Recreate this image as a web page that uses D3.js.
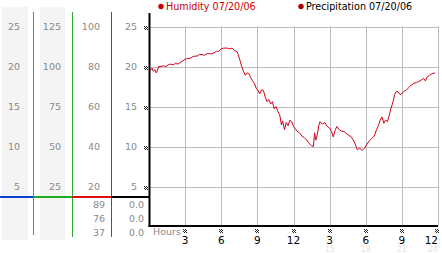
<!DOCTYPE html>
<html lang="en">
<head>
  <meta charset="UTF-8" />
  <title>Humidity 07/20/06</title>
  <script src="https://d3js.org/d3.v7.min.js"></script>
  <style>
    body {
      margin: 0;
      background: #fff;
      overflow: hidden;
    }

    svg {
      display: block;
      font-family: "DejaVu Sans", sans-serif;
    }

    .lbl {
      font-size: 9.5px;
      fill: #8a8a8a;
    }

    .grid line {
      stroke: #bdbdbd;
      stroke-width: 1px;
    }
  </style>
</head>
<body>
  <svg width="442" height="253"></svg>
  <script>
    // humidity trace, [hour, value]
    const humidity = [
      [0.0, 19.3], [0.1, 19.5], [0.25, 19.8], [0.35, 19.4], [0.5, 19.6], [0.6, 19.2], [0.7, 19.5],
      [0.8, 20.0], [1.0, 20.0], [1.2, 20.1], [1.4, 20.0], [1.6, 20.2], [1.8, 20.3], [2.0, 20.2],
      [2.2, 20.4], [2.4, 20.3], [2.6, 20.5], [2.8, 20.7], [3.0, 20.9], [3.2, 21.0], [3.4, 21.0],
      [3.6, 21.2], [3.8, 21.3], [4.0, 21.3], [4.2, 21.5], [4.4, 21.5], [4.6, 21.4], [4.8, 21.6],
      [5.0, 21.6], [5.2, 21.6], [5.4, 21.7], [5.6, 21.9], [5.8, 21.9], [6.0, 22.2], [6.2, 22.3],
      [6.5, 22.3], [6.7, 22.2], [6.9, 22.3], [7.1, 22.0], [7.3, 21.9], [7.4, 21.5], [7.55, 20.8],
      [7.7, 20.0], [7.85, 19.4], [8.0, 18.9], [8.15, 19.2], [8.3, 19.1], [8.45, 18.6], [8.6, 18.2],
      [8.75, 17.9], [8.9, 17.3], [9.05, 17.0], [9.2, 16.6], [9.35, 17.1], [9.5, 17.0], [9.65, 16.2],
      [9.8, 15.6], [9.95, 15.9], [10.1, 15.3], [10.25, 15.6], [10.4, 14.7], [10.55, 15.0],
      [10.7, 14.4], [10.85, 14.0], [11.0, 12.7], [11.1, 13.2], [11.25, 12.1], [11.4, 13.0],
      [11.55, 12.6], [11.7, 13.3], [11.85, 13.1], [12.0, 12.5], [12.15, 12.2], [12.3, 11.9],
      [12.5, 11.7], [12.7, 11.3], [12.9, 11.1], [13.1, 10.8], [13.3, 10.4], [13.5, 10.1],
      [13.65, 10.0], [13.75, 11.7], [13.85, 10.8], [13.95, 11.3], [14.1, 12.6], [14.2, 13.1],
      [14.4, 12.8], [14.6, 13.0], [14.8, 12.5], [15.0, 12.3], [15.15, 11.9], [15.3, 11.2],
      [15.45, 12.0], [15.6, 12.5], [15.8, 12.1], [16.0, 11.9], [16.2, 11.9], [16.4, 11.6],
      [16.6, 11.4], [16.8, 11.2], [17.0, 10.7], [17.15, 10.2], [17.3, 9.6], [17.5, 9.8],
      [17.7, 9.5], [17.9, 9.8], [18.1, 10.3], [18.3, 10.7], [18.5, 11.0], [18.7, 11.3],
      [18.9, 12.1], [19.05, 12.6], [19.2, 13.3], [19.35, 13.7], [19.5, 12.9], [19.65, 13.3],
      [19.8, 13.1], [19.95, 13.9], [20.1, 14.8], [20.25, 15.5], [20.4, 16.5], [20.55, 16.9],
      [20.7, 16.8], [20.85, 16.5], [21.0, 16.6], [21.2, 16.9], [21.4, 17.1], [21.6, 17.4],
      [21.8, 17.7], [22.0, 17.9], [22.2, 18.0], [22.4, 18.1], [22.6, 18.3], [22.8, 18.5],
      [22.95, 18.2], [23.1, 18.7], [23.3, 18.9], [23.5, 19.1], [23.75, 19.2]
    ];

    const plotTicks = [25, 20, 15, 10, 5];
    const leftCols = [
      [25, 20, 15, 10, 5],
      [125, 100, 75, 50, 25],
      [100, 80, 60, 40, 20],
      [25, 20, 15, 10, 5]
    ];
    const currentVals = [["89", "76", "37"], ["0.0", "0.0", "0.0"]];
    const hourTicks = [3, 6, 9, 12, 15, 18, 21, 24];
    const hourLabels = ["3", "6", "9", "12", "3", "6", "9", "12"];
    const hourLabels24 = ["", "", "", "", "15", "18", "21", "24"];
    const legend = [
      { name: "Humidity 07/20/06", text: "#cc0000", dot: "#cc0000" },
      { name: "Precipitation 07/20/06", text: "#000", dot: "#aa0000" }
    ];

    const svg = d3.select("svg");
    const x = d3.scaleLinear().domain([0, 24]).range([149, 438]);
    const y = d3.scaleLinear().domain([0, 25]).range([226.5, 26.5]);

    const checker = [[0,0],[2,0],[1,1],[3,1],[0,2],[2,2],[1,3],[3,3]];
    function glyph(g, cx, cy) {
      g.selectAll(null).data(checker).join("rect")
        .attr("x", d => cx + d[0]).attr("y", d => cy + d[1])
        .attr("width", 1).attr("height", 1).attr("fill", "#222");
    }

    // gray bands on left
    svg.append("rect").attr("x", 2).attr("y", 7).attr("width", 26).attr("height", 233).attr("fill", "#f4f4f4");
    svg.append("rect").attr("x", 40).attr("y", 7).attr("width", 25).attr("height", 233).attr("fill", "#f4f4f4");

    // grid
    const grid = svg.append("g").attr("class", "grid");
    grid.selectAll(".h").data(plotTicks).join("line")
      .attr("x1", 149).attr("x2", 438)
      .attr("y1", d => Math.round(y(d)) + 0.5).attr("y2", d => Math.round(y(d)) + 0.5);
    grid.selectAll(".v").data(hourTicks).join("line")
      .attr("y1", 26).attr("y2", 226)
      .attr("x1", d => Math.round(x(d)) + 0.5).attr("x2", d => Math.round(x(d)) + 0.5);

    // left column dividers
    const dividers = [
      { x: 33.5, color: "#2a9bc0", h: [0, 33], hc: "#1040d0", bottom: 235 },
      { x: 72.5, color: "#33aa33", h: [33, 72], hc: "#22aa22", bottom: 237 },
      { x: 111.5, color: "#cc2222", h: [72, 111], hc: "#dd1111", bottom: 237 }
    ];
    dividers.forEach(d => {
      svg.append("line").attr("x1", d.x).attr("x2", d.x).attr("y1", 12).attr("y2", d.bottom)
        .attr("stroke", d.color).attr("stroke-width", 1);
    });
    dividers.forEach(d => {
      svg.append("line").attr("x1", d.h[0]).attr("x2", d.h[1]).attr("y1", 197).attr("y2", 197)
        .attr("stroke", d.hc).attr("stroke-width", 2);
    });
    svg.append("line").attr("x1", 111).attr("x2", 149).attr("y1", 197).attr("y2", 197)
      .attr("stroke", "#000").attr("stroke-width", 2);

    // left labels
    const colRight = [20, 61, 100, 137];
    leftCols.forEach((vals, ci) => {
      svg.append("g").selectAll("text").data(vals).join("text")
        .attr("class", "lbl")
        .attr("x", colRight[ci])
        .attr("y", (d, i) => y(plotTicks[i]) + 3.5)
        .attr("text-anchor", "end")
        .text(d => d);
    });
    const curRight = [105, 144];
    currentVals.forEach((vals, ci) => {
      svg.append("g").selectAll("text").data(vals).join("text")
        .attr("class", "lbl")
        .attr("x", curRight[ci])
        .attr("y", (d, i) => 207.5 + i * 14)
        .attr("text-anchor", "end")
        .text(d => d);
    });

    // humidity line
    svg.append("path")
      .datum(humidity)
      .attr("fill", "none")
      .attr("stroke", "#d0021b")
      .attr("stroke-width", 1)
      .attr("d", d3.line().x(d => x(d[0])).y(d => y(d[1])));

    // axes
    svg.append("line").attr("x1", 149.5).attr("x2", 149.5).attr("y1", 13).attr("y2", 227)
      .attr("stroke", "#000").attr("stroke-width", 2);
    svg.append("line").attr("x1", 148.5).attr("x2", 438).attr("y1", 226).attr("y2", 226)
      .attr("stroke", "#000").attr("stroke-width", 2);

    plotTicks.forEach(t => glyph(svg.append("g"), 144, Math.round(y(t)) - 1));

    // hour labels
    svg.append("text").attr("class", "lbl").attr("x", 153).attr("y", 235).text("Hours");
    hourTicks.forEach(t => glyph(svg.append("g"), Math.min(Math.round(x(t)) - 2, 435), 229));
    svg.append("g").selectAll("text").data(hourTicks).join("text")
      .attr("x", d => Math.min(x(d), 441))
      .attr("y", 244)
      .attr("text-anchor", d => x(d) + 6 > 441 ? "end" : "middle")
      .attr("font-size", "10.5px").attr("fill", "#000")
      .text((d, i) => hourLabels[i]);
    svg.append("g").selectAll("text").data(hourTicks).join("text")
      .attr("x", d => Math.min(x(d), 441))
      .attr("y", 252)
      .attr("text-anchor", d => x(d) + 6 > 441 ? "end" : "middle")
      .attr("font-size", "8px").attr("fill", "#e4e4e4")
      .text((d, i) => hourLabels24[i]);

    // legend
    const legX = [161, 301];
    legend.forEach((l, i) => {
      svg.append("circle").attr("cx", legX[i]).attr("cy", 6.5).attr("r", 2.7).attr("fill", l.dot);
      svg.append("text").attr("x", legX[i] + 5).attr("y", 10)
        .attr("font-size", "9.6px").attr("fill", l.text).text(l.name);
    });
  </script>
</body>
</html>
